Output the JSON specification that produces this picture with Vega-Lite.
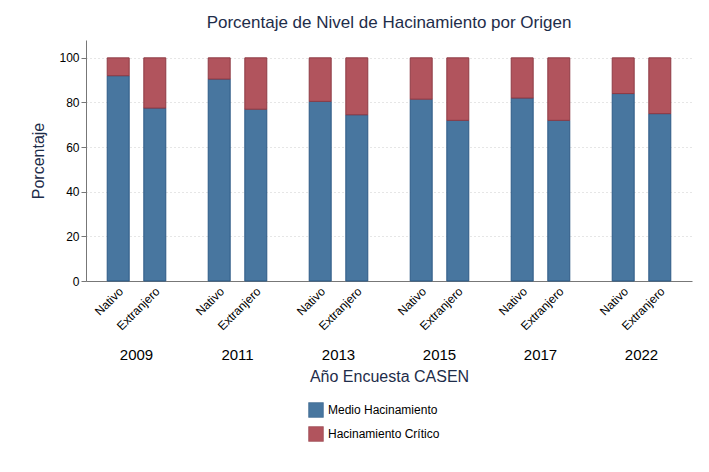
{
  "$schema": "https://vega.github.io/schema/vega-lite/v6.json",
  "autosize": "none",
  "width": 606,
  "height": 241,
  "padding": {"left": 86, "top": 40, "right": 17, "bottom": 191},
  "background": "white",
  "title": {"text": "Porcentaje de Nivel de Hacinamiento por Origen", "fontSize": 17, "fontWeight": "normal", "color": "#1e2d4a", "offset": 8, "font": "Liberation Sans"},
  "data": {"values": [
    {"year": "2009", "origen": "Nativo", "nivel": "Medio Hacinamiento", "valor": 92},
    {"year": "2009", "origen": "Nativo", "nivel": "Hacinamiento Crítico", "valor": 8},
    {"year": "2009", "origen": "Extranjero", "nivel": "Medio Hacinamiento", "valor": 77.5},
    {"year": "2009", "origen": "Extranjero", "nivel": "Hacinamiento Crítico", "valor": 22.5},
    {"year": "2011", "origen": "Nativo", "nivel": "Medio Hacinamiento", "valor": 90.5},
    {"year": "2011", "origen": "Nativo", "nivel": "Hacinamiento Crítico", "valor": 9.5},
    {"year": "2011", "origen": "Extranjero", "nivel": "Medio Hacinamiento", "valor": 77},
    {"year": "2011", "origen": "Extranjero", "nivel": "Hacinamiento Crítico", "valor": 23},
    {"year": "2013", "origen": "Nativo", "nivel": "Medio Hacinamiento", "valor": 80.5},
    {"year": "2013", "origen": "Nativo", "nivel": "Hacinamiento Crítico", "valor": 19.5},
    {"year": "2013", "origen": "Extranjero", "nivel": "Medio Hacinamiento", "valor": 74.5},
    {"year": "2013", "origen": "Extranjero", "nivel": "Hacinamiento Crítico", "valor": 25.5},
    {"year": "2015", "origen": "Nativo", "nivel": "Medio Hacinamiento", "valor": 81.5},
    {"year": "2015", "origen": "Nativo", "nivel": "Hacinamiento Crítico", "valor": 18.5},
    {"year": "2015", "origen": "Extranjero", "nivel": "Medio Hacinamiento", "valor": 72},
    {"year": "2015", "origen": "Extranjero", "nivel": "Hacinamiento Crítico", "valor": 28},
    {"year": "2017", "origen": "Nativo", "nivel": "Medio Hacinamiento", "valor": 82},
    {"year": "2017", "origen": "Nativo", "nivel": "Hacinamiento Crítico", "valor": 18},
    {"year": "2017", "origen": "Extranjero", "nivel": "Medio Hacinamiento", "valor": 72},
    {"year": "2017", "origen": "Extranjero", "nivel": "Hacinamiento Crítico", "valor": 28},
    {"year": "2022", "origen": "Nativo", "nivel": "Medio Hacinamiento", "valor": 84},
    {"year": "2022", "origen": "Nativo", "nivel": "Hacinamiento Crítico", "valor": 16},
    {"year": "2022", "origen": "Extranjero", "nivel": "Medio Hacinamiento", "valor": 75},
    {"year": "2022", "origen": "Extranjero", "nivel": "Hacinamiento Crítico", "valor": 25}
  ]},
  "encoding": {
    "x": {"field": "year", "type": "nominal", "scale": {"paddingInner": 0.42, "paddingOuter": 0.21},
      "axis": {"title": "Año Encuesta CASEN", "labelAngle": 0, "labelPadding": 66, "labelFontSize": 15, "titleFontSize": 16, "titleFontWeight": "normal", "titlePadding": 6, "ticks": false, "domainColor": "#777", "labelColor": "#000", "titleColor": "#1e2d4a"}},
    "xOffset": {"field": "origen", "type": "nominal", "sort": ["Nativo", "Extranjero"], "scale": {"paddingInner": 0.4, "paddingOuter": 0}}
  },
  "layer": [
    {
      "mark": {"type": "bar", "strokeWidth": 1},
      "encoding": {
        "y": {"field": "valor", "type": "quantitative", "stack": "zero", "scale": {"domain": [0, 108], "nice": false},
          "axis": {"title": "Porcentaje", "values": [0, 20, 40, 60, 80, 100], "titleFontSize": 16, "titleFontWeight": "normal", "titleColor": "#1e2d4a", "labelFontSize": 12, "labelColor": "#000", "gridDash": [1, 3], "gridColor": "#ccc", "domainColor": "#777", "tickColor": "#777", "titlePadding": 12}},
        "color": {"field": "nivel", "type": "nominal", "scale": {"domain": ["Medio Hacinamiento", "Hacinamiento Crítico"], "range": ["#48769f", "#b1545d"]},
          "legend": {"title": null, "orient": "none", "legendX": 222, "legendY": 362, "direction": "vertical", "symbolType": "square", "symbolSize": 220, "symbolStrokeColor": "#444", "symbolStrokeWidth": 0.5, "labelFontSize": 12, "rowPadding": 6}},
        "stroke": {"field": "nivel", "type": "nominal", "scale": {"domain": ["Medio Hacinamiento", "Hacinamiento Crítico"], "range": ["#2d5a85", "#8e3a44"]}, "legend": null},
        "order": {"field": "nivel", "sort": "descending"}
      }
    },
    {
      "transform": [{"filter": "datum.nivel == 'Medio Hacinamiento'"}],
      "mark": {"type": "text", "angle": -45, "align": "right", "baseline": "middle", "dx": -4, "dy": 8, "fontSize": 12, "color": "#000"},
      "encoding": {
        "y": {"datum": 0, "type": "quantitative"},
        "text": {"field": "origen"}
      }
    }
  ],
  "config": {
    "font": "Liberation Sans",
    "view": {"stroke": null},
    "axisY": {"labelAngle": 0}
  }
}
